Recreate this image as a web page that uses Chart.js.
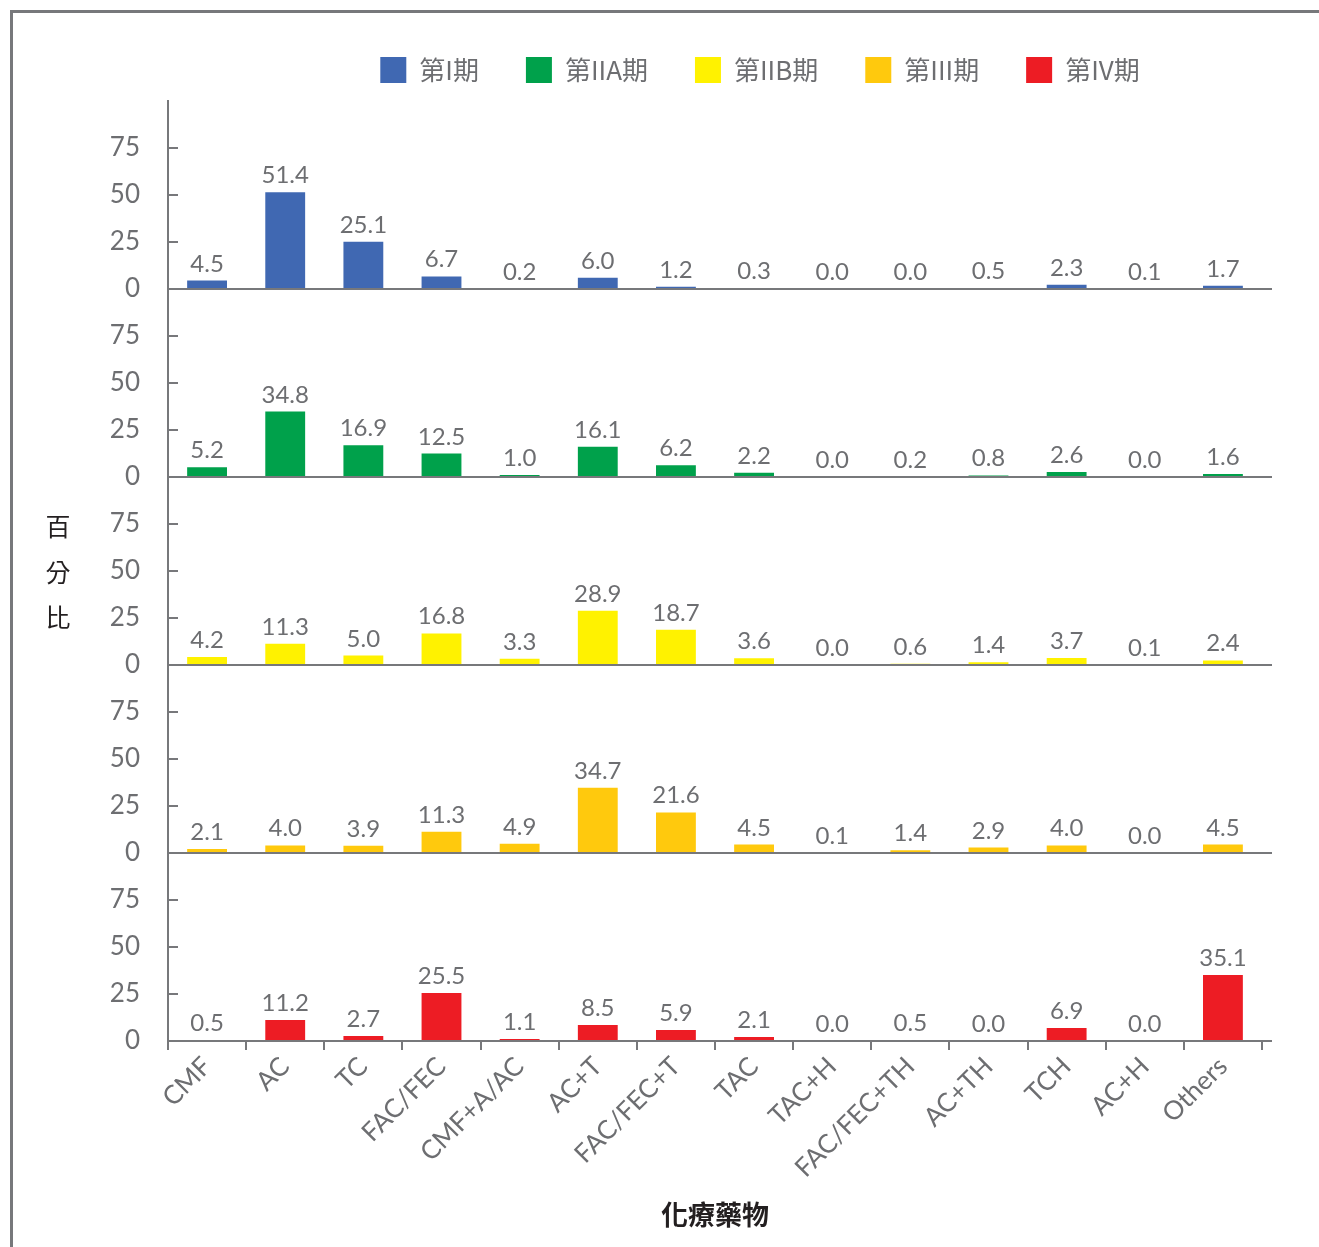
<!DOCTYPE html>
<html>
<head>
<meta charset="utf-8">
<script src="https://cdn.jsdelivr.net/npm/chart.js@4.4.1/dist/chart.umd.min.js"></script>
<style>
  html, body { margin: 0; padding: 0; background: #fff; }
  #wrap { position: relative; width: 1319px; height: 1247px; overflow: hidden; }
  #frame { position: absolute; left: 10px; top: 10px; right: -10px; bottom: -10px; border-left: 3px solid #77787b; border-top: 3px solid #77787b; pointer-events: none; }
  #ytitle { position: absolute; left: 44px; top: 503px; width: 28px; font-family: "Noto Sans CJK TC", "Noto Sans CJK SC", sans-serif; font-size: 25px; line-height: 45.5px; color: #231f20; text-align: center; }
  canvas { position: absolute; left: 0; top: 0; }
</style>
</head>
<body>
<div id="wrap">
  <canvas id="c" width="1319" height="1247"></canvas>
  <div id="frame"></div>
  <div id="ytitle">百<br>分<br>比</div>
</div>
<script>
const categories = ['CMF','AC','TC','FAC/FEC','CMF+A/AC','AC+T','FAC/FEC+T','TAC','TAC+H','FAC/FEC+TH','AC+TH','TCH','AC+H','Others'];
const stageLabels = ['第I期','第IIA期','第IIB期','第III期','第IV期'];
const stageColors = ['#4068b2','#00a14b','#fff200','#ffc90d','#ed1c24'];
const stageI   = [4.5, 51.4, 25.1, 6.7, 0.2, 6.0, 1.2, 0.3, 0.0, 0.0, 0.5, 2.3, 0.1, 1.7];
const stageIIA = [5.2, 34.8, 16.9, 12.5, 1.0, 16.1, 6.2, 2.2, 0.0, 0.2, 0.8, 2.6, 0.0, 1.6];
const stageIIB = [4.2, 11.3, 5.0, 16.8, 3.3, 28.9, 18.7, 3.6, 0.0, 0.6, 1.4, 3.7, 0.1, 2.4];
const stageIII = [2.1, 4.0, 3.9, 11.3, 4.9, 34.7, 21.6, 4.5, 0.1, 1.4, 2.9, 4.0, 0.0, 4.5];
const stageIV  = [0.5, 11.2, 2.7, 25.5, 1.1, 8.5, 5.9, 2.1, 0.0, 0.5, 0.0, 6.9, 0.0, 35.1];
const yTickValues = [0, 25, 50, 75];
const xTitle = '化療藥物';

const seriesData = [stageI, stageIIA, stageIIB, stageIII, stageIV];
const axisIds = ['y1','y2','y3','y4','y5'];
const GRAY = '#77787b';
const TXT = '#6d6e71';
const NUMFONT = 'Lato, "Open Sans", sans-serif';

const datasets = seriesData.map((d, i) => ({
  label: stageLabels[i],
  data: d,
  backgroundColor: stageColors[i],
  borderWidth: 0,
  yAxisID: axisIds[i],
  grouped: false,
  categoryPercentage: 1,
  barPercentage: 0.51
}));

function makeY(id) {
  return {
    type: 'linear',
    position: 'left',
    stack: 'panels',
    stackWeight: 1,
    min: 0,
    max: 100,
    afterBuildTicks: (s) => { s.ticks = yTickValues.map(v => ({value: v})); },
    afterFit: (s) => { s.width = 100; },
    ticks: { color: TXT, font: { family: NUMFONT, size: 26 }, padding: 28 },
    grid: { display: false, drawTicks: false },
    border: { display: true, color: GRAY, width: 2 }
  };
}
const scales = {
  x: {
    type: 'category',
    labels: categories,
    afterFit: (s) => { s.height = 206; },
    ticks: { color: TXT, font: { family: NUMFONT, size: 26 }, minRotation: 45, maxRotation: 45, padding: 1, autoSkip: false },
    grid: { offset: true, drawOnChartArea: false, drawTicks: true, tickLength: 9, color: GRAY, lineWidth: 2 },
    border: { display: true, color: GRAY, width: 2 },
    title: { display: true, text: xTitle, color: '#231f20', font: { family: '"Noto Sans CJK TC", sans-serif', size: 27, weight: 'bold' }, padding: { bottom: 16 } }
  }
};
// later-defined axes are placed on top
for (let i = axisIds.length - 1; i >= 0; i--) scales[axisIds[i]] = makeY(axisIds[i]);

const panelDeco = {
  id: 'panelDeco',
  afterLayout(chart) {
    const lg = chart.legend;
    if (lg) { lg.left += 95; lg.right += 95; lg.top -= 8; lg.bottom -= 8; }
  },
  afterDatasetsDraw(chart) {
    const ctx = chart.ctx;
    const ca = chart.chartArea;
    ctx.save();
    ctx.strokeStyle = GRAY;
    ctx.lineWidth = 2;
    axisIds.forEach(id => {
      const s = chart.scales[id];
      yTickValues.forEach(v => {
        if (v === 0) return;
        const y = Math.round(s.getPixelForValue(v));
        ctx.beginPath(); ctx.moveTo(ca.left, y); ctx.lineTo(ca.left + 10, y); ctx.stroke();
      });
      const y0 = Math.round(s.getPixelForValue(0));
      ctx.beginPath(); ctx.moveTo(ca.left, y0); ctx.lineTo(ca.right + 10, y0); ctx.stroke();
    });
    // value labels
    ctx.fillStyle = TXT;
    ctx.font = '24px ' + NUMFONT;
    ctx.textAlign = 'center';
    ctx.textBaseline = 'alphabetic';
    chart.data.datasets.forEach((ds, di) => {
      const meta = chart.getDatasetMeta(di);
      meta.data.forEach((bar, i) => {
        ctx.fillText(ds.data[i].toFixed(1), bar.x, bar.y - 9);
      });
    });
    ctx.restore();
  }
};

new Chart(document.getElementById('c'), {
  type: 'bar',
  data: { labels: categories, datasets },
  options: {
    responsive: false,
    animation: false,
    devicePixelRatio: 1,
    layout: { padding: { left: 68, right: 57, top: 18, bottom: 0 } },
    plugins: {
      legend: {
        display: true,
        position: 'top',
        labels: { boxWidth: 26, boxHeight: 26, padding: 47, color: TXT, font: { family: '"Noto Sans CJK TC", sans-serif', size: 26 } }
      },
      tooltip: { enabled: false }
    },
    scales
  },
  plugins: [panelDeco]
});
</script>
</body>
</html>
